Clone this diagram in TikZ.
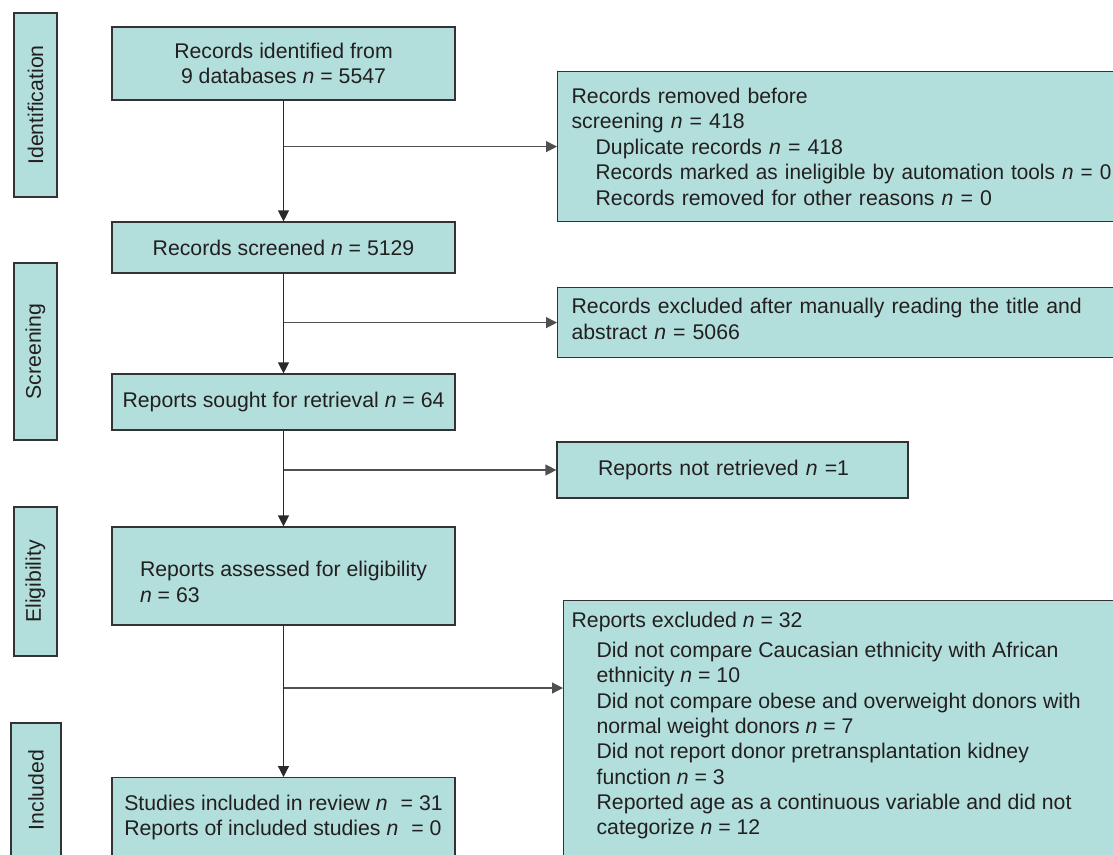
\documentclass[tikz,border=0pt]{standalone}
\usepackage{fontspec}
\setmainfont{Liberation Sans}
\usetikzlibrary{arrows.meta}
\definecolor{boxfill}{HTML}{B2DFDB}
\definecolor{boxline}{HTML}{333333}
\definecolor{txt}{HTML}{231F20}
\definecolor{conn}{HTML}{2A2A2A}
\definecolor{branch}{HTML}{505050}
\begin{document}
\begin{tikzpicture}[x=1pt,y=-1pt,
  base/.style={draw=boxline, line width=1.2pt, fill=boxfill, text=txt,
    font=\fontsize{21.25}{25.5}\selectfont, inner sep=0pt},
  mainbox/.style={base, minimum width=343pt},
  sidebox/.style={base, rotate=90},
  arr/.style={draw=conn, line width=1.2pt, -{Triangle[width=11pt,length=11pt]}},
  brarr/.style={arr, draw=branch},
]
\useasboundingbox (0,0) rectangle (1113,854);
\clip (0,0) rectangle (1113,854);

% side labels
\node[sidebox, minimum width=184pt, minimum height=43pt] (s1) at (35.5,105) {Identification};
\node[sidebox, minimum width=177pt, minimum height=43pt] (s2) at (35.5,351.5) {Screening};
\node[sidebox, minimum width=149pt, minimum height=43pt] (s3) at (35.5,581.5) {Eligibility};
\node[sidebox, minimum width=134pt, minimum height=50pt] (s4) at (36,790) {Included};

% main column
\node[mainbox, minimum height=73pt, align=center] (b1) at (283.5,63.5)
  {Records identified from\\9 databases \textit{n} = 5547};
\node[mainbox, minimum height=51pt] (b2) at (283.5,247.5)
  {Records screened \textit{n} = 5129};
\node[mainbox, minimum height=56pt] (b3) at (283.5,402)
  {Reports sought for retrieval \textit{n} = 64};
\node[mainbox, minimum height=98pt, align=left] (b4) at (283.5,576)
  {\rule{0pt}{27.5pt}Reports assessed for eligibility\\\textit{n} = 63};
\node[mainbox, minimum height=80pt, align=left, anchor=north] (b5) at (283.5,777)
  {Studies included in review \textit{n}\hspace{13pt}= 31\\Reports of included studies \textit{n}\hspace{13pt}= 0};

% right column
\node[base, anchor=north west, minimum height=150pt, text width=552pt, inner xsep=14pt, align=left] (r1) at (557,71)
  {Records removed before\\screening \textit{n} = 418\\\hspace*{24pt}Duplicate records \textit{n} = 418\\\hspace*{24pt}{\addfontfeature{FakeStretch=0.975}Records marked as ineligible by automation tools \textit{n} = 0}\\\hspace*{24pt}Records removed for other reasons \textit{n} = 0};
\node[base, anchor=north west, minimum height=70pt, text width=552pt, inner xsep=14pt, align=left] (r2) at (557,287)
  {Records excluded after manually reading the title and\\abstract \textit{n} = 5066\rule[-8pt]{0pt}{8pt}};
\node[base, minimum width=351pt, minimum height=56pt, text width=269pt, align=left] (r3) at (732.5,470)
  {Reports not retrieved \textit{n} =1};
\node[base, anchor=north west, inner xsep=8pt, inner ysep=11.5pt] (r4) at (563,600)
  {\parbox[t][265pt][t]{560pt}{\raggedright\fontsize{21.25}{25.3}\selectfont
   Reports excluded \textit{n} = 32\\[4.7pt]
   \hspace*{25pt}Did not compare Caucasian ethnicity with African\\
   \hspace*{25pt}ethnicity \textit{n} = 10\\
   \hspace*{25pt}Did not compare obese and overweight donors with\\
   \hspace*{25pt}normal weight donors \textit{n} = 7\\
   \hspace*{25pt}Did not report donor pretransplantation kidney\\
   \hspace*{25pt}function \textit{n} = 3\\
   \hspace*{25pt}Reported age as a continuous variable and did not\\
   \hspace*{25pt}categorize \textit{n} = 12}};

% connectors
\draw[arr] (b1.south) -- (b2.north);
\draw[arr] (b2.south) -- (b3.north);
\draw[arr] (b3.south) -- (b4.north);
\draw[arr] (b4.south) -- (b5.north);
\coordinate (j1) at (b1.south |- r1.west);
\coordinate (j2) at (b2.south |- r2.west);
\coordinate (j3) at (b3.south |- r3.west);
\coordinate (j4) at (b4.south |- 0,688);
\draw[brarr] (j1) -- (r1.west);
\draw[brarr] (j2) -- (r2.west);
\draw[brarr] (j3) -- (r3.west);
\draw[brarr] (j4) -- (j4 -| r4.west);
\end{tikzpicture}
\end{document}
